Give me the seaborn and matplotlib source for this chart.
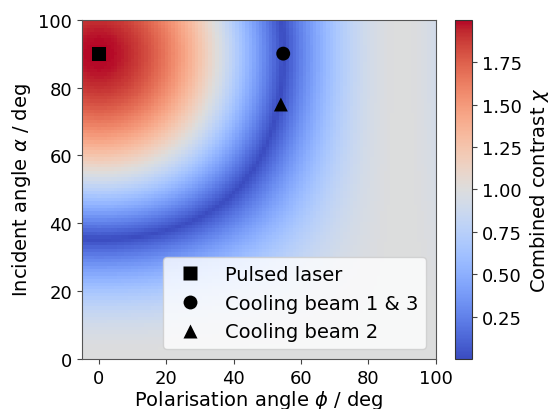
import numpy as np
import pandas as pd
import matplotlib
matplotlib.use("Agg")
import matplotlib.pyplot as plt
import seaborn as sns

# Grid of the map (degrees)
phi_deg = np.arange(-5, 101, 1.0)      # polarisation angle
alpha_deg = np.arange(0, 101, 1.0)     # incident angle

# Combined contrast: 2 at (0,90), 0 on the magic-angle
# ring cos(phi) sin(alpha) = 1/sqrt(3), 1 where the projection vanishes
P, A = np.meshgrid(np.deg2rad(phi_deg), np.deg2rad(alpha_deg))
chi = np.abs(3 * np.cos(P) ** 2 * np.sin(A) ** 2 - 1)

# Marked beams
beam_labels = ["Pulsed laser", "Cooling beam 1 & 3", "Cooling beam 2"]
beam_phi = [0, 54.7, 54]
beam_alpha = [90, 90, 75]
beam_markers = ["s", "o", "^"]

sns.set_style("ticks")
plt.rcParams["font.family"] = ["DejaVu Sans"]
plt.rcParams["font.size"] = 13
for k in ["text.color", "axes.labelcolor", "xtick.labelcolor", "ytick.labelcolor"]:
    plt.rcParams[k] = "black"

fig = plt.figure(figsize=(5.49, 4.10), dpi=100)
ax = fig.add_axes([0.1494, 0.122, 0.6446, 0.8275])
cax = fig.add_axes([0.8288, 0.122, 0.0315, 0.8275])

mesh = ax.pcolormesh(phi_deg, alpha_deg, chi, cmap="coolwarm", shading="auto")
cb = fig.colorbar(mesh, cax=cax)
cb.set_label(r"Combined contrast $\chi$", fontsize=14)
cb.set_ticks([0.25, 0.5, 0.75, 1.0, 1.25, 1.5, 1.75])
cb.ax.tick_params(labelsize=13, color="#444444")
cb.outline.set_edgecolor("#333333")

df = pd.DataFrame({"phi": beam_phi, "alpha": beam_alpha, "beam": beam_labels})
sns.scatterplot(data=df, x="phi", y="alpha", style="beam",
                markers=dict(zip(beam_labels, beam_markers)),
                color="black", s=100, edgecolor="none", ax=ax, zorder=5)

ax.set_xlim(-5, 100)
ax.set_ylim(0, 100)
ax.set_xticks([0, 20, 40, 60, 80, 100])
ax.set_yticks([0, 20, 40, 60, 80, 100])
ax.tick_params(labelsize=13, color="#444444")
ax.set_xlabel(r"Polarisation angle $\phi$ / deg", fontsize=14, labelpad=1)
ax.set_ylabel(r"Incident angle $\alpha$ / deg", fontsize=14)
leg = ax.legend(loc="lower right", fontsize=14, title=None, markerscale=1.0)
for s in ax.spines.values():
    s.set_color("#555555")

fig.savefig("out.png", dpi=100)
